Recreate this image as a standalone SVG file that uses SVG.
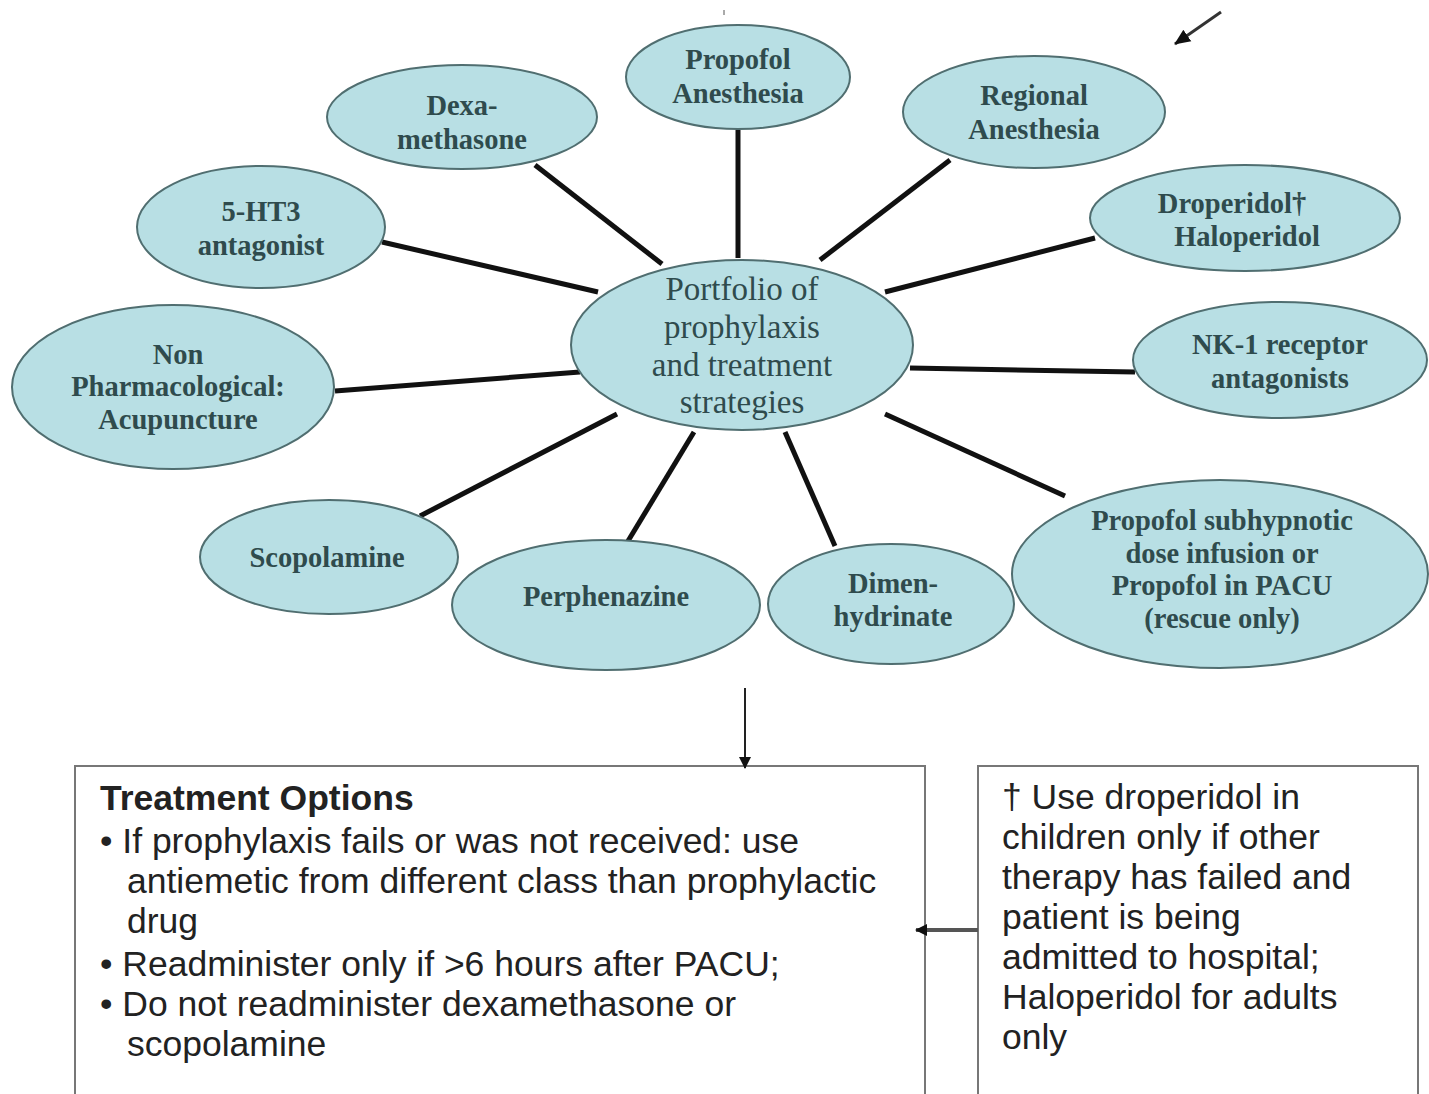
<svg xmlns="http://www.w3.org/2000/svg" width="1429" height="1094" viewBox="0 0 1429 1094">
<defs>
<style>
.node ellipse{fill:#b8dfe4;stroke:#506e70;stroke-width:2}
.nt{font-family:"Liberation Serif","Times New Roman",serif;font-size:28.5px;font-weight:bold;fill:#2f4b4d;text-anchor:middle}
.ct{font-family:"Liberation Serif","Times New Roman",serif;font-size:33px;fill:#2f4b4d;text-anchor:middle}
.spoke{stroke:#111;stroke-width:5;stroke-linecap:butt}
.box{fill:none;stroke:#777;stroke-width:2}
.bt{font-family:"Liberation Sans",Arial,sans-serif;font-size:35.5px;fill:#222}
</style>
<marker id="ah" markerWidth="12" markerHeight="16" refX="11" refY="8" orient="auto" markerUnits="userSpaceOnUse">
<path d="M0,2 L12,8 L0,14 Z" fill="#111"/>
</marker>
<marker id="ah2" markerWidth="16" markerHeight="16" refX="15" refY="8" orient="auto" markerUnits="userSpaceOnUse">
<path d="M0,1 L16,8 L0,15 Z" fill="#111"/>
</marker>
</defs>
<rect width="1429" height="1094" fill="#fff"/>

<g id="treatment-options">
<path class="box" d="M75,1094 V766 H925 V1094"/>
<text class="bt" x="100" y="810" font-weight="bold">Treatment Options</text>
<text class="bt" x="100" y="853">• If prophylaxis fails or was not received: use</text>
<text class="bt" x="127" y="893">antiemetic from different class than prophylactic</text>
<text class="bt" x="127" y="933">drug</text>
<text class="bt" x="100" y="976">• Readminister only if &gt;6 hours after PACU;</text>
<text class="bt" x="100" y="1016">• Do not readminister dexamethasone or</text>
<text class="bt" x="127" y="1056">scopolamine</text>
</g>

<g id="droperidol-note">
<path class="box" d="M978,1094 V766 H1418 V1094"/>
<text class="bt" x="1002" y="809">† Use droperidol in</text>
<text class="bt" x="1002" y="849">children only if other</text>
<text class="bt" x="1002" y="889">therapy has failed and</text>
<text class="bt" x="1002" y="929">patient is being</text>
<text class="bt" x="1002" y="969">admitted to hospital;</text>
<text class="bt" x="1002" y="1009">Haloperidol for adults</text>
<text class="bt" x="1002" y="1049">only</text>
</g>

<g id="connectors">
<line class="spoke" x1="738" y1="130" x2="738" y2="258"/>
<line class="spoke" x1="950" y1="160" x2="820" y2="260"/>
<line class="spoke" x1="535" y1="165" x2="662" y2="264"/>
<line class="spoke" x1="382" y1="242" x2="598" y2="292"/>
<line class="spoke" x1="1095" y1="238" x2="885" y2="292"/>
<line class="spoke" x1="335" y1="391" x2="580" y2="372"/>
<line class="spoke" x1="910" y1="368" x2="1135" y2="372"/>
<line class="spoke" x1="420" y1="516" x2="617" y2="414"/>
<line class="spoke" x1="625" y1="546" x2="694" y2="432"/>
<line class="spoke" x1="835" y1="546" x2="785" y2="432"/>
<line class="spoke" x1="1065" y1="496" x2="885" y2="414"/>
<line x1="745" y1="688" x2="745" y2="768" stroke="#222" stroke-width="2" marker-end="url(#ah)"/>
<line x1="978" y1="930" x2="916" y2="930" stroke="#555" stroke-width="4" marker-end="url(#ah)"/>
<line x1="1221" y1="12" x2="1175" y2="44" stroke="#333" stroke-width="3" marker-end="url(#ah2)"/>
<line x1="724" y1="10" x2="724" y2="15" stroke="#555" stroke-width="1"/>
</g>

<g id="center" class="node">
<ellipse cx="742" cy="345" rx="171" ry="85"/>
<text class="ct" x="742" y="300">Portfolio of</text>
<text class="ct" x="742" y="338">prophylaxis</text>
<text class="ct" x="742" y="376">and treatment</text>
<text class="ct" x="742" y="413">strategies</text>
</g>

<g id="propofol-anesthesia" class="node">
<ellipse cx="738" cy="77" rx="112" ry="52"/>
<text class="nt" x="738" y="69">Propofol</text>
<text class="nt" x="738" y="103">Anesthesia</text>
</g>

<g id="regional-anesthesia" class="node">
<ellipse cx="1034" cy="112" rx="131" ry="56"/>
<text class="nt" x="1034" y="105">Regional</text>
<text class="nt" x="1034" y="139">Anesthesia</text>
</g>

<g id="dexamethasone" class="node">
<ellipse cx="462" cy="117" rx="135" ry="52"/>
<text class="nt" x="462" y="115">Dexa-</text>
<text class="nt" x="462" y="149">methasone</text>
</g>

<g id="ht3" class="node">
<ellipse cx="261" cy="227" rx="124" ry="61"/>
<text class="nt" x="261" y="221">5-HT3</text>
<text class="nt" x="261" y="255">antagonist</text>
</g>

<g id="droperidol" class="node">
<ellipse cx="1245" cy="218" rx="155" ry="53"/>
<text class="nt" x="1232" y="213">Droperidol†</text>
<text class="nt" x="1247" y="246">Haloperidol</text>
</g>

<g id="nonpharm" class="node">
<ellipse cx="173" cy="387" rx="161" ry="82"/>
<text class="nt" x="178" y="364">Non</text>
<text class="nt" x="178" y="396">Pharmacological:</text>
<text class="nt" x="178" y="429">Acupuncture</text>
</g>

<g id="nk1" class="node">
<ellipse cx="1280" cy="360" rx="147" ry="58"/>
<text class="nt" x="1280" y="354">NK-1 receptor</text>
<text class="nt" x="1280" y="388">antagonists</text>
</g>

<g id="scopolamine" class="node">
<ellipse cx="329" cy="557" rx="129" ry="57"/>
<text class="nt" x="327" y="567">Scopolamine</text>
</g>

<g id="perphenazine" class="node">
<ellipse cx="606" cy="605" rx="154" ry="65"/>
<text class="nt" x="606" y="606">Perphenazine</text>
</g>

<g id="dimenhydrinate" class="node">
<ellipse cx="891" cy="604" rx="123" ry="60"/>
<text class="nt" x="893" y="593">Dimen-</text>
<text class="nt" x="893" y="626">hydrinate</text>
</g>

<g id="propofol-subhypnotic" class="node">
<ellipse cx="1220" cy="574" rx="208" ry="94"/>
<text class="nt" x="1222" y="530">Propofol subhypnotic</text>
<text class="nt" x="1222" y="563">dose infusion or</text>
<text class="nt" x="1222" y="595">Propofol in PACU</text>
<text class="nt" x="1222" y="628">(rescue only)</text>
</g>
</svg>
